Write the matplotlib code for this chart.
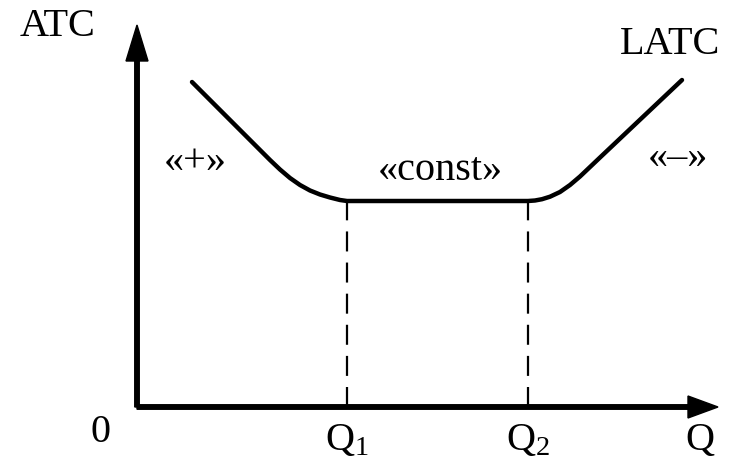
import matplotlib
matplotlib.use("Agg")
import matplotlib.pyplot as plt

plt.rcParams['font.family'] = ['Liberation Serif', 'DejaVu Serif']
plt.rcParams['mathtext.fontset'] = 'custom'
plt.rcParams['mathtext.rm'] = 'Liberation Serif'
plt.rcParams['mathtext.it'] = 'Liberation Serif:italic'

# Кривая LATC (единицы — условные, начало координат в нуле)
curve_q = [55, 133, 143, 153, 163, 173, 183, 193, 203, 210,
           391, 398, 405, 413, 423, 433, 443, 453, 463, 545]
curve_atc = [325, 247, 237.5, 229, 222, 216.5, 212.5, 209.5, 207, 206,
             206, 206.5, 207.8, 210.3, 215, 222, 230.5, 240, 249.5, 327]

q1, q2 = 210, 391
atc_flat = 206
x_max, y_max = 581, 382

zones = ["«+»", "«const»", "«–»"]
zone_x = [58, 303, 541]
zone_y = [245, 237, 250]

fig = plt.figure(figsize=(7.35, 4.67), dpi=100)
ax = fig.add_axes([0, 0, 1, 1])
ax.set_xlim(-137, 598)
ax.set_ylim(-60, 407)
ax.axis('off')

# оси со стрелками
ax.arrow(0, 0, 0, y_max, width=4.5, head_width=22, head_length=36,
         length_includes_head=True, color='black')
ax.arrow(0, 0, x_max, 0, width=4.5, head_width=22, head_length=30,
         length_includes_head=True, color='black')

# пунктир до Q1 и Q2
ax.plot([q1, q1], [0, atc_flat], color='black', lw=1.6, ls=(0, (9, 5)))
ax.plot([q2, q2], [0, atc_flat], color='black', lw=1.6, ls=(0, (9, 5)))

# сама кривая
ax.plot(curve_q, curve_atc, color='black', lw=3.2, solid_capstyle='round',
        solid_joinstyle='round')

fs = 29
ax.text(-79, 380, "ATC", fontsize=fs, ha='center', va='center')
ax.text(533, 362, "LATC", fontsize=fs, ha='center', va='center')
for z, zx, zy in zip(zones, zone_x, zone_y):
    ax.text(zx, zy, z, fontsize=fs, ha='center', va='center')

ax.text(-37, -25, "0", fontsize=fs, ha='center', va='center')
ax.text(q1, -33, r"Q$_1$", fontsize=fs, ha='center', va='center')
ax.text(q2, -33, r"Q$_2$", fontsize=fs, ha='center', va='center')
ax.text(563, -33, "Q", fontsize=fs, ha='center', va='center')

plt.savefig("out.png", dpi=100)
